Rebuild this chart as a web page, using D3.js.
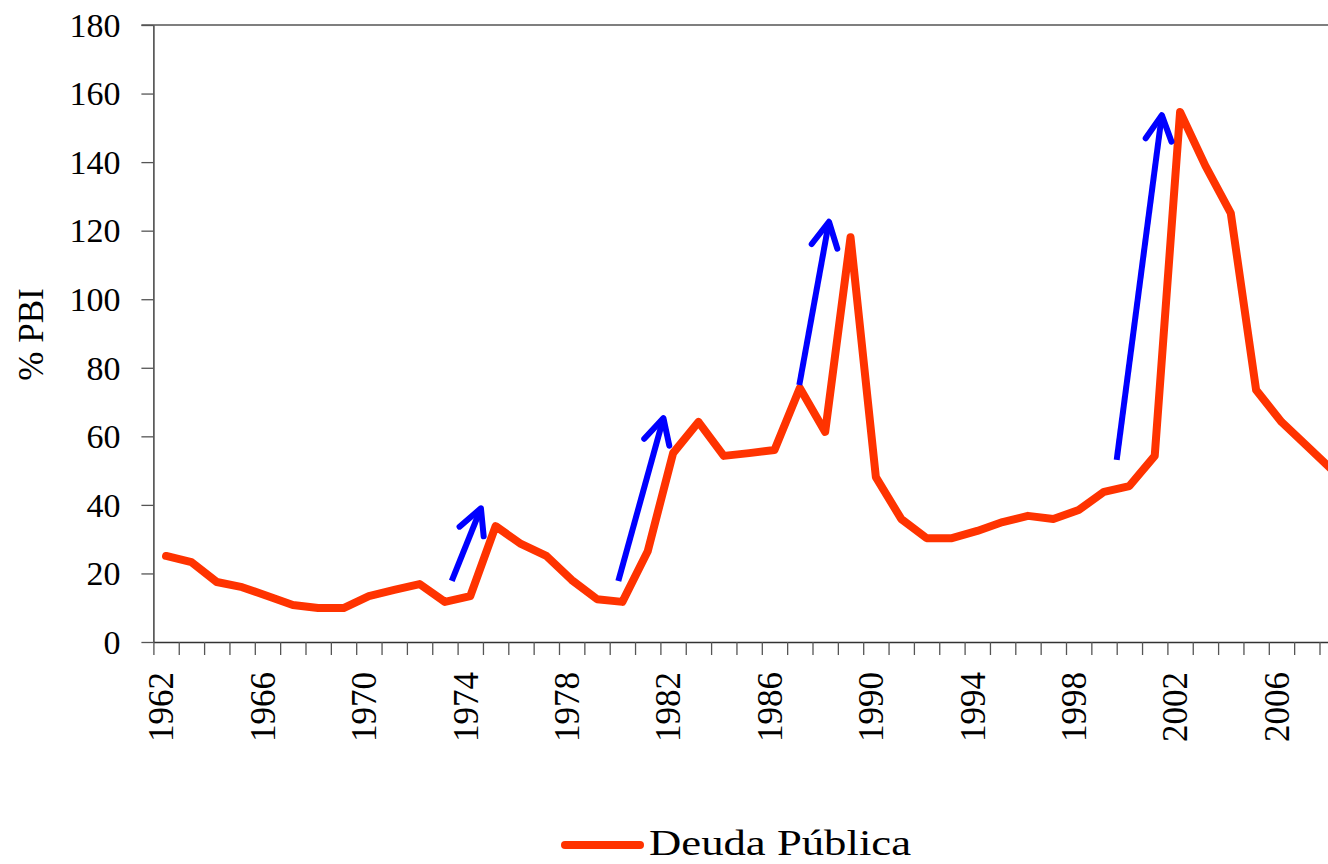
<!DOCTYPE html>
<html>
<head>
<meta charset="utf-8">
<script src="https://cdn.jsdelivr.net/npm/d3@7/dist/d3.min.js"></script>
<style>
  html, body { margin: 0; padding: 0; background: #fff; }
  svg { display: block; }
  text { font-family: "Liberation Serif", "Times New Roman", serif; fill: #000; }
</style>
</head>
<body>
<svg id="chart" width="1328" height="864"></svg>
<script>
// ---- data ----
const years = d3.range(1962, 2009);
const deuda = [25.1, 23.3, 17.5, 16.0, 13.4, 10.8, 9.9, 9.9, 13.4, 15.2,
               16.9, 11.7, 13.4, 33.8, 28.6, 25.1, 18.1, 12.5, 11.7, 26.5,
               55.1, 64.2, 54.3, 55.1, 56.0, 74.1, 61.3, 118.1, 48.1, 35.9,
               30.3, 30.3, 32.4, 35.0, 36.8, 35.9, 38.5, 43.8, 45.5, 54.3,
               154.6, 138.9, 125.1, 73.5, 64.2, 57.2, 50.2];
const axisYears = d3.range(1962, 2010);
const labelYears = [1962, 1966, 1970, 1974, 1978, 1982, 1986, 1990, 1994, 1998, 2002, 2006];
const yTicks = [0, 20, 40, 60, 80, 100, 120, 140, 160, 180];
// arrows: start year, start value, end year, end value
const arrowX0 = [1973.27, 1979.84, 1986.98, 1999.5];
const arrowY0 = [17.8, 17.8, 75.0, 53.1];
const arrowX1 = [1974.42, 1981.62, 1988.15, 2001.28];
const arrowY1 = [39.0, 65.3, 122.6, 153.7];
const seriesName = "Deuda Pública";
const yTitle = "% PBI";

// ---- layout ----
const W = 1328, H = 864;
const mLeft = 153.4, step = 25.35, mTop = 25, mBottom = 642;
const svg = d3.select("#chart");

const xBand = d3.scaleBand().domain(axisYears)
  .range([mLeft, mLeft + axisYears.length * step]).paddingInner(0).paddingOuter(0);
const xLin = d3.scaleLinear()
  .domain([axisYears[0] - 0.5, axisYears[axisYears.length - 1] + 0.5])
  .range(xBand.range());
const y = d3.scaleLinear().domain([0, 180]).range([mBottom, mTop]);

// top border line
svg.append("line")
  .attr("x1", mLeft - 12).attr("x2", W)
  .attr("y1", y(180)).attr("y2", y(180))
  .attr("stroke", "#555").attr("stroke-width", 1.3);

// y axis
const yAxis = svg.append("g").attr("transform", `translate(${mLeft},0)`)
  .call(d3.axisLeft(y).tickValues(yTicks).tickSize(12).tickSizeOuter(0).tickFormat(d3.format("d")));
yAxis.select(".domain").attr("stroke", "#333").attr("stroke-width", 1.4);
yAxis.selectAll(".tick line").attr("stroke", "#555").attr("stroke-width", 1.3);
yAxis.selectAll(".tick text")
  .attr("x", -33).attr("dy", "0.33em")
  .style("font-size", "34px").style("font-family", "Liberation Serif, serif").attr("fill", "#000");

// x axis (year boundary ticks)
const boundaries = d3.range(axisYears[0] - 0.5, axisYears[axisYears.length - 1] + 1, 1);
const xAxis = svg.append("g").attr("transform", `translate(0,${mBottom})`)
  .call(d3.axisBottom(xLin).tickValues(boundaries).tickSize(13).tickSizeOuter(0).tickFormat(""));
xAxis.select(".domain").attr("stroke", "#333").attr("stroke-width", 1.4);
xAxis.selectAll(".tick line").attr("stroke", "#555").attr("stroke-width", 1.3);

// x labels
const xLab = svg.append("g").attr("transform", `translate(0,${mBottom})`)
  .call(d3.axisBottom(xBand).tickValues(labelYears).tickSize(0).tickFormat(d3.format("d")));
xLab.select(".domain").remove();
xLab.selectAll(".tick text")
  .attr("transform", "rotate(-90)")
  .attr("text-anchor", "end")
  .attr("x", -30).attr("y", 0).attr("dy", "0.21em")
  .style("font-size", "35px").style("font-family", "Liberation Serif, serif").attr("fill", "#000");

// y title
svg.append("text")
  .attr("transform", `translate(43,${(y(0) + y(180)) / 2 + 1}) rotate(-90)`)
  .attr("text-anchor", "middle")
  .style("font-size", "35px")
  .text(yTitle);

// series line
const line = d3.line()
  .x((d, i) => xBand(years[i]) + xBand.bandwidth() / 2)
  .y(d => y(d));
svg.append("path")
  .datum(deuda)
  .attr("d", line)
  .attr("fill", "none")
  .attr("stroke", "#FF3300")
  .attr("stroke-width", 8)
  .attr("stroke-linejoin", "round")
  .attr("stroke-linecap", "round");

// arrows
const defs = svg.append("defs");
const mk = defs.append("marker")
  .attr("id", "ah").attr("markerUnits", "userSpaceOnUse")
  .attr("viewBox", "-40 -25 50 50")
  .attr("markerWidth", 50).attr("markerHeight", 50)
  .attr("refX", 0).attr("refY", 0)
  .attr("orient", "auto").style("overflow", "visible");
mk.append("path")
  .attr("d", "M-25,-13L0,0L-25,13")
  .attr("fill", "none").attr("stroke", "#0000FF").attr("stroke-width", 6)
  .attr("stroke-linecap", "round").attr("stroke-linejoin", "round");

svg.append("g").selectAll("line")
  .data(arrowX0)
  .join("line")
  .attr("x1", (d, i) => xLin(arrowX0[i]))
  .attr("y1", (d, i) => y(arrowY0[i]))
  .attr("x2", (d, i) => xLin(arrowX1[i]))
  .attr("y2", (d, i) => y(arrowY1[i]))
  .attr("stroke", "#0000FF").attr("stroke-width", 6)
  .attr("marker-end", "url(#ah)");

// legend
const lg = svg.append("g");
lg.append("line")
  .attr("x1", 565).attr("x2", 640).attr("y1", 845).attr("y2", 845)
  .attr("stroke", "#FF3300").attr("stroke-width", 8).attr("stroke-linecap", "round");
lg.append("text")
  .attr("x", 649).attr("y", 855)
  .style("font-size", "35px")
  .attr("textLength", 262).attr("lengthAdjust", "spacingAndGlyphs")
  .text(seriesName);
</script>
</body>
</html>
